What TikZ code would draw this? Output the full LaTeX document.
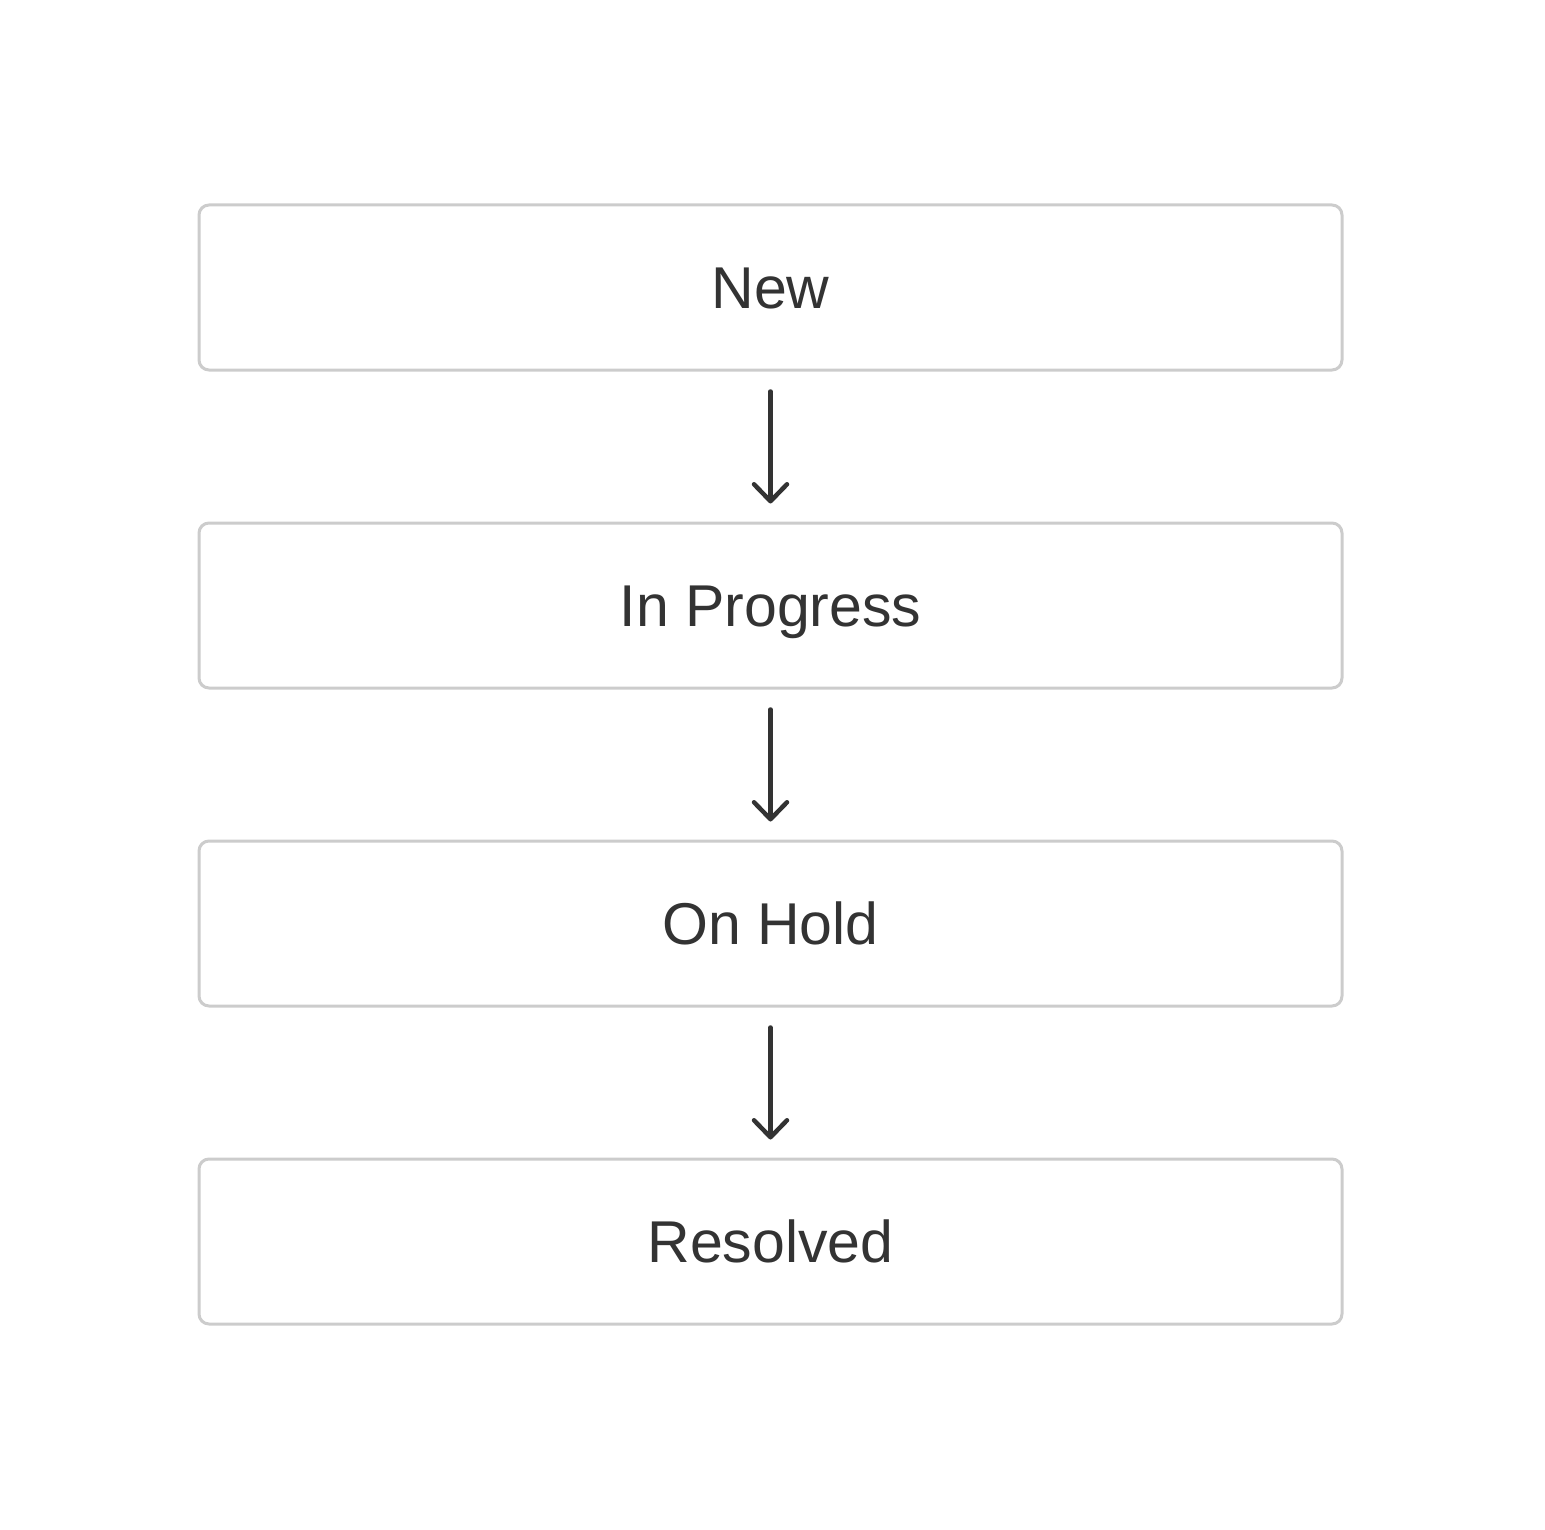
\documentclass[tikz,border=0pt]{standalone}
\usepackage{fontspec}
\setmainfont{Liberation Sans}
\usetikzlibrary{arrows.meta}
\definecolor{boxline}{HTML}{CCCCCC}
\definecolor{ink}{HTML}{333333}
\tikzset{
  state/.style={draw=boxline, line width=3pt, rounded corners=10pt, fill=white,
    minimum width=1143pt, minimum height=165pt, inner sep=0pt,
    text height=42pt, text depth=0pt,
    text=ink, font=\fontsize{59}{70}\selectfont},
  flow/.style={draw=ink, line width=4.5pt, line cap=round,
    -{Straight Barb[length=17pt, width=33pt, line width=4.5pt, line cap=round, line join=round]},
    shorten <=20pt, shorten >=18pt}
}
\begin{document}
\begin{tikzpicture}[x=1pt,y=-1pt]
\useasboundingbox (0,0) rectangle (1545,1530);
\node[state] (new) at (770.5,287.5) {New};
\node[state] (prog) at (770.5,605.5) {In Progress};
\node[state] (hold) at (770.5,923.5) {On Hold};
\node[state] (res) at (770.5,1241.5) {Resolved};
\draw[flow] (new.south) -- (prog.north);
\draw[flow] (prog.south) -- (hold.north);
\draw[flow] (hold.south) -- (res.north);
\end{tikzpicture}
\end{document}
